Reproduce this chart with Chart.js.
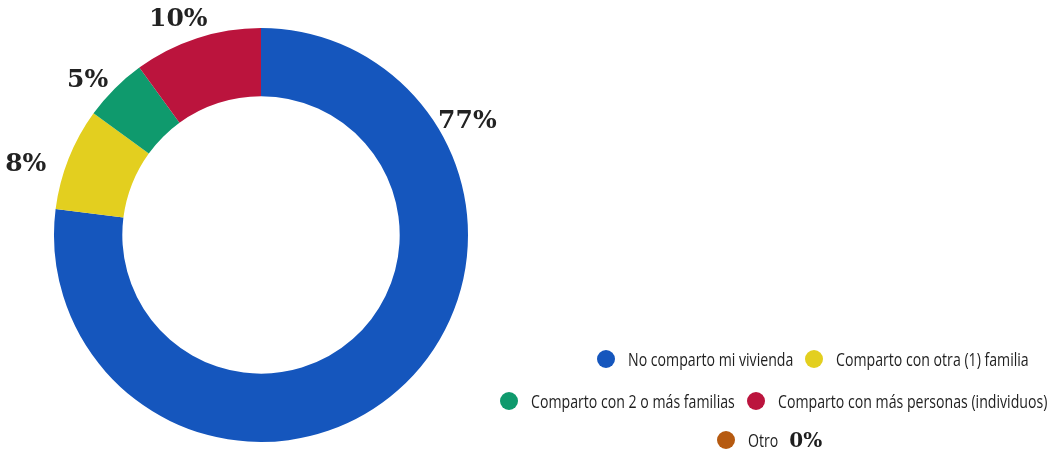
<!DOCTYPE html>
<html>
<head>
<meta charset="utf-8">
<script src="https://cdn.jsdelivr.net/npm/chart.js@4.4.1/dist/chart.umd.min.js"></script>
<style>
  html, body { margin: 0; padding: 0; background: #fff; }
  #wrap { position: relative; width: 1053px; height: 449px; }
  #legend { position: absolute; left: 0; top: 0; width: 1053px; height: 449px; pointer-events: none;
    font-family: 'Open Sans', 'Noto Sans', sans-serif; font-size: 18px; color: #1e1e1e; }
  .row { position: absolute; display: flex; align-items: center; white-space: nowrap; }
  .item { display: flex; align-items: center; margin-right: 12px; }
  .dot { width: 18px; height: 18px; border-radius: 50%; margin-right: 13px; flex: none; }
  .txt { display: inline-block; overflow: visible; }
  .txt .in { display: inline-block; transform-origin: 0 50%; }
  .val { font-family: 'DejaVu Serif', serif; font-weight: bold; font-size: 20px; margin-left: 11px; }
</style>
</head>
<body>
<div id="wrap">
  <canvas id="chart-vivienda" width="1053" height="449"></canvas>
  <div id="legend"></div>
</div>
<script>
// Datos
const labels = [
  'No comparto mi vivienda',
  'Comparto con otra (1) familia',
  'Comparto con 2 o más familias',
  'Comparto con más personas (individuos)',
  'Otro'
];
const valores = [77, 8, 5, 10, 0];
const colores = ['#1556bd', '#e3cf1f', '#0f9a6d', '#bb143d', '#b65a10'];

// placement of the % labels around the ring (fraction along arc, distance past outer edge)
const labelPos = [[0.22, 29], [0.34, 39], [0.33, 26], [0.42, 25]];

const pctLabels = {
  id: 'pctLabels',
  afterDatasetsDraw(chart) {
    const ctx = chart.ctx;
    const meta = chart.getDatasetMeta(0);
    ctx.save();
    ctx.font = "bold 25px 'DejaVu Serif', serif";
    ctx.fillStyle = '#222';
    ctx.textAlign = 'center';
    ctx.textBaseline = 'middle';
    meta.data.forEach((arc, i) => {
      const v = valores[i];
      if (!v || !labelPos[i]) return;
      const p = arc.getProps(['x', 'y', 'startAngle', 'endAngle', 'outerRadius'], true);
      const a = p.startAngle + (p.endAngle - p.startAngle) * labelPos[i][0];
      const r = p.outerRadius + labelPos[i][1];
      ctx.fillText(v + '%', p.x + Math.cos(a) * r, p.y + Math.sin(a) * r + 1);
    });
    ctx.restore();
  }
};

new Chart(document.getElementById('chart-vivienda').getContext('2d'), {
  type: 'doughnut',
  data: {
    labels: labels,
    datasets: [{
      data: valores,
      backgroundColor: colores,
      borderWidth: 0,
      hoverOffset: 0
    }]
  },
  options: {
    responsive: false,
    animation: false,
    cutout: '67%',
    layout: { padding: { left: 54, right: 585, top: 28, bottom: 7 } },
    plugins: { legend: { display: false }, tooltip: { enabled: false } }
  },
  plugins: [pctLabels]
});

// leyenda en filas, como en el original (texto condensado)
const SQUEEZE = 0.785;
const rows = [
  { idx: [0, 1], left: 597, top: 347 },
  { idx: [2, 3], left: 500, top: 389 },
  { idx: [4], left: 717, top: 428 }
];
const legend = document.getElementById('legend');
rows.forEach(r => {
  const row = document.createElement('div');
  row.className = 'row';
  row.style.left = r.left + 'px';
  row.style.top = r.top + 'px';
  r.idx.forEach(i => {
    const it = document.createElement('div');
    it.className = 'item';
    it.innerHTML = '<span class="dot" style="background:' + colores[i] + '"></span>' +
      '<span class="txt"><span class="in">' + labels[i] + '</span></span>' +
      (valores[i] === 0 ? '<span class="val">' + valores[i] + '%</span>' : '');
    row.appendChild(it);
  });
  legend.appendChild(row);
});
document.querySelectorAll('.txt').forEach(t => {
  const inner = t.querySelector('.in');
  const w = inner.getBoundingClientRect().width;
  t.style.width = (w * SQUEEZE) + 'px';
  inner.style.transform = 'scaleX(' + SQUEEZE + ')';
});
</script>
</body>
</html>
